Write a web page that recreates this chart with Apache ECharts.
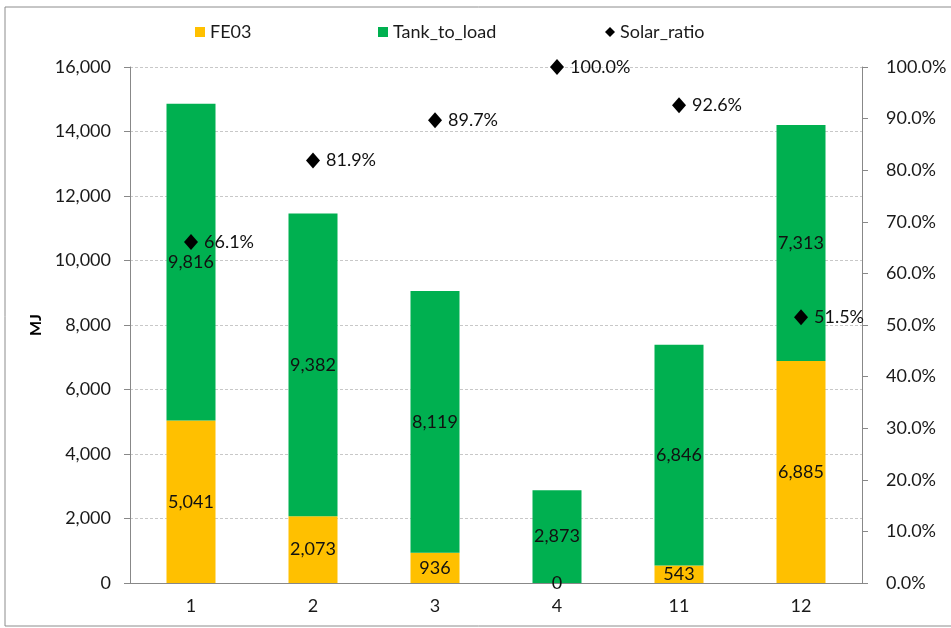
<!DOCTYPE html>
<html>
<head>
<meta charset="utf-8">
<script src="https://cdn.jsdelivr.net/npm/echarts@6/dist/echarts.min.js"></script>
<style>
html,body{margin:0;padding:0;background:#fff;}
#main{width:951px;height:628px;}
</style>
</head>
<body>
<div id="main"></div>
<script>
// 月份 / 数据
var months = ['1', '2', '3', '4', '11', '12'];
var fe03 = [5041, 2073, 936, 0, 543, 6885];
var tankToLoad = [9816, 9382, 8119, 2873, 6846, 7313];
var solarRatio = [66.1, 81.9, 89.7, 100.0, 92.6, 51.5];

var font = 'Lato, "Open Sans", sans-serif';

function legendAt(name, icon, x) {
    return {
        top: 18,
        left: x,
        itemWidth: 10,
        itemHeight: 10,
        itemGap: 6,
        textStyle: {fontSize: 18, color: '#1a1a1a', fontFamily: font},
        data: [{name: name, icon: icon}]
    };
}

var myChart = echarts.init(document.getElementById('main'));
var option = {
    animation: false,
    textStyle: {fontFamily: font},
    graphic: [{
        type: 'rect',
        shape: {x: 5, y: 7, width: 960, height: 619},
        style: {fill: 'none', stroke: '#8c8c8c', lineWidth: 1}
    }],
    legend: [
        legendAt('FE03', 'rect', 190),
        legendAt('Tank_to_load', 'rect', 373),
        legendAt('Solar_ratio', 'diamond', 600)
    ],
    grid: {left: 130, right: 89, top: 67, bottom: 45},
    xAxis: {
        type: 'category',
        data: months,
        axisLine: {lineStyle: {color: '#888'}},
        axisTick: {length: 6, lineStyle: {color: '#888'}},
        axisLabel: {fontSize: 18, color: '#1a1a1a', margin: 14}
    },
    yAxis: [{
        type: 'value',
        name: 'MJ',
        nameLocation: 'middle',
        nameGap: 86,
        nameTextStyle: {fontSize: 16, fontWeight: 'bold', color: '#000'},
        min: 0,
        max: 16000,
        interval: 2000,
        axisLine: {show: true, lineStyle: {color: '#888'}},
        axisTick: {show: true, length: 6, lineStyle: {color: '#888'}},
        axisLabel: {
            fontSize: 18, color: '#1a1a1a', margin: 19,
            formatter: function (v) { return v.toLocaleString('en-US'); }
        },
        splitLine: {lineStyle: {color: '#c8c8c8', type: [3, 2]}}
    }, {
        type: 'value',
        min: 0,
        max: 100,
        interval: 10,
        axisLine: {show: true, lineStyle: {color: '#888'}},
        axisTick: {show: true, length: 6, lineStyle: {color: '#888'}},
        axisLabel: {
            fontSize: 18, color: '#1a1a1a', margin: 24,
            formatter: function (v) { return v.toFixed(1) + '%'; }
        },
        splitLine: {show: false}
    }],
    series: [{
        name: 'FE03',
        type: 'bar',
        stack: 'total',
        barWidth: 49,
        itemStyle: {color: '#FFC000'},
        data: fe03,
        label: {
            show: true, position: 'inside', fontSize: 18, color: '#111',
            formatter: function (p) { return p.value.toLocaleString('en-US'); }
        }
    }, {
        name: 'Tank_to_load',
        type: 'bar',
        stack: 'total',
        barWidth: 49,
        itemStyle: {color: '#00B050'},
        data: tankToLoad,
        label: {
            show: true, position: 'inside', fontSize: 18, color: '#111',
            formatter: function (p) { return p.value.toLocaleString('en-US'); }
        }
    }, {
        name: 'Solar_ratio',
        type: 'scatter',
        yAxisIndex: 1,
        symbol: 'diamond',
        symbolSize: [14, 16],
        itemStyle: {color: '#000', opacity: 1},
        data: solarRatio,
        label: {
            show: true, position: 'right', distance: 6, fontSize: 18, color: '#111',
            formatter: function (p) { return p.value.toFixed(1) + '%'; }
        },
        z: 5
    }]
};
myChart.setOption(option);
</script>
</body>
</html>
